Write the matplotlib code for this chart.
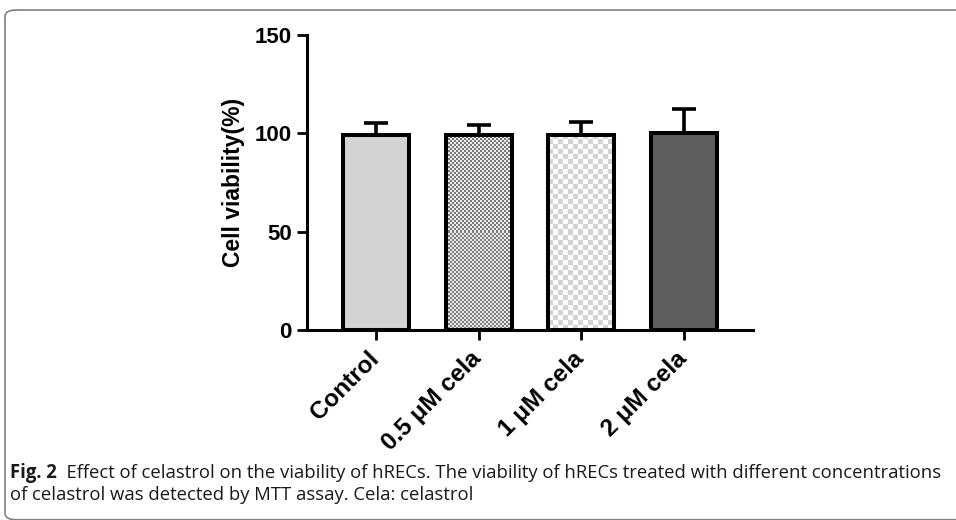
import numpy as np
import matplotlib
matplotlib.use("Agg")
import matplotlib.pyplot as plt
from matplotlib.patches import FancyBboxPatch
from matplotlib.transforms import ScaledTranslation

# ---- data ----
categories = ["Control", "0.5 \u03bcM cela", "1 \u03bcM cela", "2 \u03bcM cela"]
means = [99.2, 99.4, 99.4, 100.3]
errors = [6.3, 5.0, 6.3, 12.0]
yticks = [0, 50, 100, 150]
ylabel = "Cell viability(%)"
caption_bold = "Fig. 2"
caption_line1 = "  Effect of celastrol on the viability of hRECs. The viability of hRECs treated with different concentrations"
caption_line2 = "of celastrol was detected by MTT assay. Cela: celastrol"

W, H = 956, 520
fig = plt.figure(figsize=(W / 100, H / 100), dpi=100)
fig.patch.set_facecolor("white")

# rounded frame (open on the right)
frame = FancyBboxPatch((5 / W, 0.3 / H), 1.2, (510 - 0.3) / H,
                       boxstyle="round,pad=0,rounding_size=0.012",
                       transform=fig.transFigure, fill=False,
                       edgecolor="#808080", linewidth=1.2, clip_on=False)
fig.patches.append(frame)

ax_l, ax_r, ax_t, ax_b = 307, 753, 35, 330
ax = fig.add_axes([ax_l / W, 1 - ax_b / H, (ax_r - ax_l) / W, (ax_b - ax_t) / H])

x = np.arange(len(categories))
facecolors = ["#d3d3d3", "none", "none", "#5e5e5e"]
bars = ax.bar(x, means, width=0.64, color=facecolors, edgecolor="black",
              linewidth=2.9, zorder=3)
ax.errorbar(x, means, yerr=[np.zeros(len(errors)), errors], fmt="none",
            ecolor="black", elinewidth=2.6, capsize=8.5, capthick=2.6, zorder=2)

ax.set_xlim(-0.675, 3.675)
ax.set_ylim(0, 150)

# checkerboard fills for the patterned bars
fig.canvas.draw()
patterns = {1: (2, "#7a7a7a", "#ececec"), 2: (5, "#d4d4d4", "#ffffff")}
for i, (cell, c1, c2) in patterns.items():
    r = bars[i]
    x0, y0 = r.get_x(), r.get_y()
    x1, y1 = x0 + r.get_width(), y0 + r.get_height()
    p0 = ax.transData.transform((x0, y0))
    p1 = ax.transData.transform((x1, y1))
    wpx, hpx = int(round(p1[0] - p0[0])), int(round(p1[1] - p0[1]))
    yy, xx = np.mgrid[0:hpx, 0:wpx]
    board = ((xx // cell + yy // cell) % 2).astype(float)
    rgb1 = np.array(matplotlib.colors.to_rgb(c1))
    rgb2 = np.array(matplotlib.colors.to_rgb(c2))
    img = np.where(board[..., None] > 0.5, rgb1, rgb2)
    ax.imshow(img, extent=(x0, x1, y0, y1), aspect="auto",
              interpolation="nearest", zorder=1)
ax.set_xlim(-0.675, 3.675)
ax.set_ylim(0, 150)

for s in ["top", "right"]:
    ax.spines[s].set_visible(False)
for s in ["left", "bottom"]:
    ax.spines[s].set_linewidth(2.2)

ax.set_yticks(yticks)
ax.set_xticks(x)
ax.tick_params(axis="y", length=7, width=2, pad=4, labelsize=16)
ax.tick_params(axis="x", length=7, width=2, pad=8, labelsize=17.5)
for lab in ax.get_yticklabels():
    lab.set_fontweight("bold")
    lab.set_family("Liberation Sans")
ax.set_xticklabels(categories, rotation=45, ha="right", rotation_mode="anchor",
                   fontweight="bold", family="Liberation Sans")
offset = ScaledTranslation(-9 / 100, 4 / 100, fig.dpi_scale_trans)
for lab in ax.get_xticklabels():
    lab.set_transform(lab.get_transform() + offset)
ax.set_ylabel(ylabel, fontsize=16.5, fontweight="bold", family="Liberation Sans",
              labelpad=7)

# caption
cap_size = 13.35
t1 = fig.text(10 / W, 1 - 478 / H, caption_bold, fontsize=cap_size, fontweight="bold",
              family="Open Sans", color="#1a1a1a")
fig.canvas.draw()
bb = t1.get_window_extent()
fig.text(bb.x1 / W, 1 - 478 / H, caption_line1, fontsize=cap_size, family="Open Sans",
         color="#1a1a1a")
fig.text(10 / W, 1 - 500 / H, caption_line2, fontsize=cap_size, family="Open Sans",
         color="#1a1a1a")

fig.savefig("out.png", dpi=100)
